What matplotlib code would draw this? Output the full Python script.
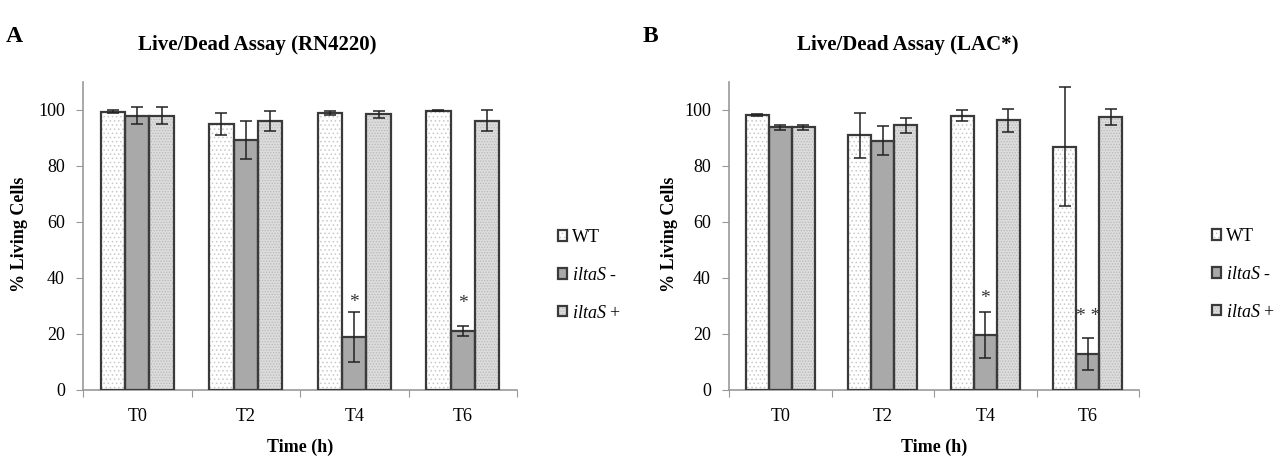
import matplotlib
matplotlib.use('Agg')
import matplotlib.pyplot as plt
import numpy as np

plt.rcParams['font.family'] = ['Liberation Serif', 'DejaVu Serif']
plt.rcParams['mathtext.fontset'] = 'custom'
plt.rcParams['mathtext.rm'] = 'Liberation Serif'
plt.rcParams['mathtext.it'] = 'Liberation Serif:italic'
plt.rcParams['hatch.linewidth'] = 0.6

# data
times = ['T0', 'T2', 'T4', 'T6']
series = ['WT', r'$\mathit{iltaS}$ -', r'$\mathit{iltaS}$ +']

rn_wt = [99.4, 95.1, 99.0, 99.8]
rn_wt_err = [0.6, 4.0, 0.8, 0.2]
rn_minus = [98.0, 89.3, 18.9, 21.1]
rn_minus_err = [3.0, 6.8, 8.8, 1.8]
rn_plus = [98.0, 96.0, 98.4, 96.2]
rn_plus_err = [3.0, 3.6, 1.2, 3.7]
rn_stars = ['', '', '*', '*']

lac_wt = [98.2, 90.9, 97.9, 86.9]
lac_wt_err = [0.3, 8.2, 2.0, 21.2]
lac_minus = [93.8, 89.1, 19.6, 13.0]
lac_minus_err = [0.8, 5.3, 8.2, 5.7]
lac_plus = [93.8, 94.5, 96.3, 97.5]
lac_plus_err = [0.8, 2.8, 4.1, 3.0]
lac_stars = ['', '', '*', '* *']

face = ['white', '#a9a9a9', '#dcdcdc']
hatch_col = ['#c8c8c8', '#a9a9a9', '#b8b8b8']
hatches = ['....', None, '......']
edge = '#3a3a3a'
W, H = 1277, 467


def draw_panel(rect, vals, errs, stars, star_gap, title, title_x, letter, letter_x, ylab_x, leg_xy):
    ax = fig.add_axes(rect)
    x = np.arange(len(times))
    bw = 0.225
    handles = []
    for i in range(3):
        pos = x + (i - 1) * bw
        b1 = ax.bar(pos, vals[i], bw, color=face[i], edgecolor=hatch_col[i],
                    hatch=hatches[i], linewidth=0, zorder=2)
        b2 = ax.bar(pos, vals[i], bw, color='none', edgecolor=edge,
                    linewidth=1.6, zorder=3)
        handles.append((b1, b2))
        ax.errorbar(pos, vals[i], yerr=errs[i], fmt='none', ecolor='#222222',
                    elinewidth=1.1, capsize=4, capthick=1.1, zorder=4)
    # significance marks over the mutant bars
    for j, s in enumerate(stars):
        if s:
            top = vals[1][j] + errs[1][j]
            ax.text(x[j], top + star_gap[j], s, ha='center', va='center',
                    fontsize=14, color='#333333')
    ax.set_xlim(-0.5, len(times) - 0.5)
    ax.set_ylim(0, 110)
    ax.set_yticks([0, 20, 40, 60, 80, 100])
    ax.set_xticks(np.arange(len(times) + 1) - 0.5)
    ax.set_xticklabels([])
    ax.set_xticks(x, minor=True)
    ax.set_xticklabels(times, minor=True)
    ax.tick_params(axis='x', which='minor', length=0, pad=13, labelsize=13)
    ax.tick_params(axis='x', which='major', length=5, color='#999999')
    ax.tick_params(axis='y', length=5, color='#999999', pad=8, labelsize=13)
    for s in ['top', 'right']:
        ax.spines[s].set_visible(False)
    for s in ['left', 'bottom']:
        ax.spines[s].set_color('#999999')
        ax.spines[s].set_linewidth(1.2)
    fig.text(title_x / W, 1 - 45 / H, title, ha='center', va='center',
             fontsize=15, fontweight='bold')
    fig.text(letter_x / W, 1 - 36 / H, letter, ha='left', va='center',
             fontsize=17, fontweight='bold')
    fig.text(ylab_x / W, 1 - 234 / H, '% Living Cells', rotation=90,
             ha='center', va='center', fontsize=13, fontweight='bold')
    fig.text((rect[0] + rect[2] / 2), 1 - 447 / H, 'Time (h)', ha='center',
             va='center', fontsize=13, fontweight='bold')
    ax.legend(handles, series, loc='upper left',
              bbox_to_anchor=(leg_xy[0] / W, 1 - leg_xy[1] / H),
              bbox_transform=fig.transFigure, frameon=False, fontsize=13,
              handlelength=0.5, handleheight=0.5, handletextpad=0.3,
              labelspacing=1.15, borderpad=0)
    return ax


fig = plt.figure(figsize=(W / 100, H / 100), dpi=100)
draw_panel([83 / W, 1 - 390 / H, 434 / W, 308 / H],
           [rn_wt, rn_minus, rn_plus], [rn_wt_err, rn_minus_err, rn_plus_err],
           rn_stars, [3.5, 3.5, 3.5, 8.0],
           'Live/Dead Assay (RN4220)', 257, 'A', 6, 20, (549, 220))
draw_panel([729 / W, 1 - 390 / H, 410 / W, 308 / H],
           [lac_wt, lac_minus, lac_plus], [lac_wt_err, lac_minus_err, lac_plus_err],
           lac_stars, [3.5, 3.5, 5.0, 7.5],
           'Live/Dead Assay (LAC*)', 908, 'B', 643, 670, (1203, 219))

fig.savefig('out.png', dpi=100)
